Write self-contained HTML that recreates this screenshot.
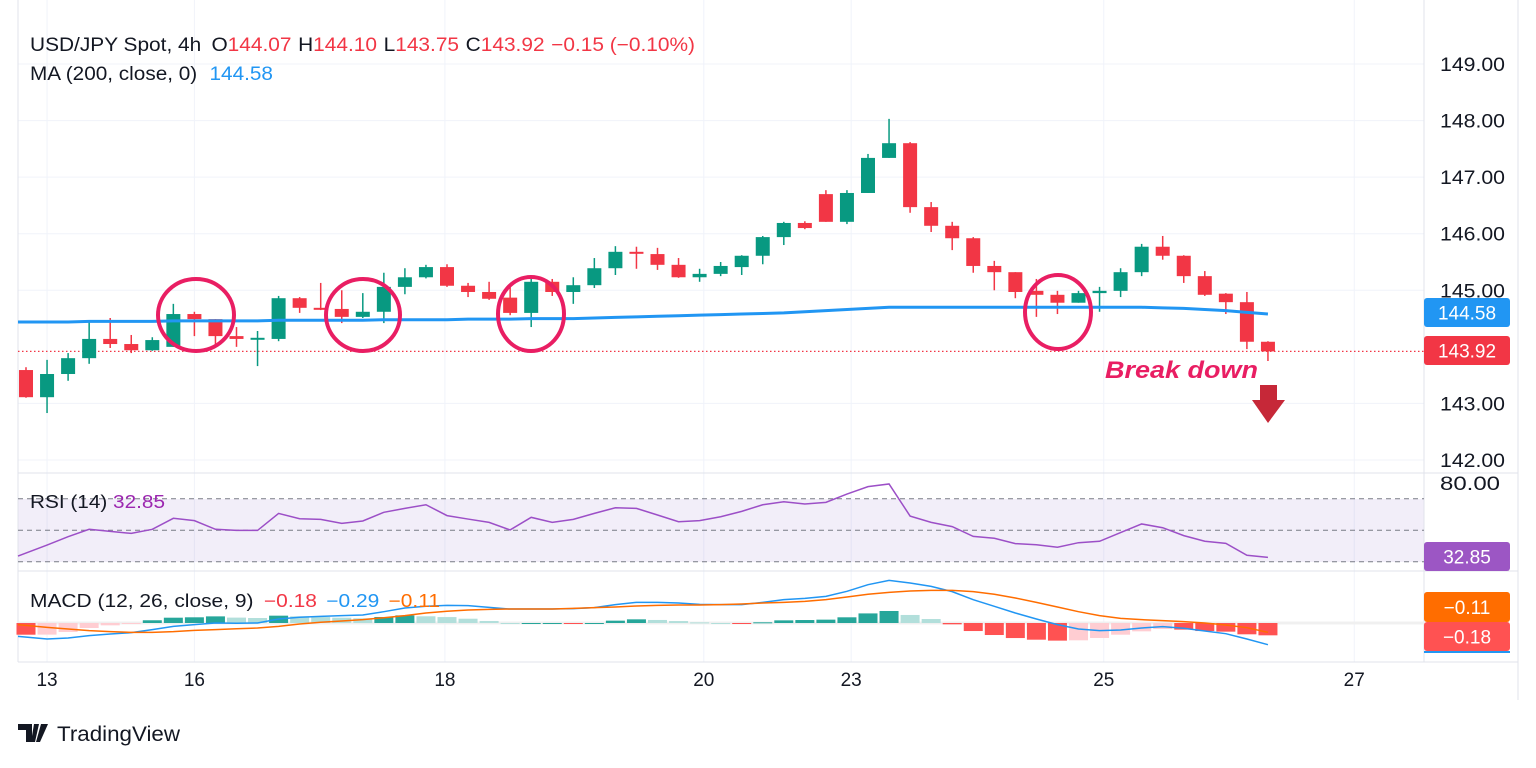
<!DOCTYPE html>
<html><head><meta charset="utf-8">
<style>
body{margin:0;background:#fff;font-family:"Liberation Sans",sans-serif;}
svg text{font-family:"Liberation Sans",sans-serif;}
</style></head>
<body>
<svg id="chart" width="1536" height="763" xmlns="http://www.w3.org/2000/svg">
<rect width="1536" height="763" fill="#fff"/>
<g id="grid"></g>
<rect x="18" y="499" width="1406" height="63" fill="#7e57c2" fill-opacity="0.1"/>
<g id="panes"></g>
<g id="candles"></g>
<g id="ind"></g>
<g id="labels"></g>
<g fill="none" stroke="#e91e63" stroke-width="4">
<ellipse cx="196" cy="315" rx="38" ry="36"/>
<ellipse cx="363" cy="315" rx="37" ry="36"/>
<ellipse cx="531" cy="314" rx="33" ry="37"/>
<ellipse cx="1058" cy="312" rx="33" ry="37"/>
</g>
<text x="1105" y="378" font-size="24" font-weight="bold" font-style="italic" fill="#e91e63" textLength="153" lengthAdjust="spacingAndGlyphs">Break down</text>
<g fill="#c62838">
<rect x="1260" y="385" width="17" height="16"/>
<polygon points="1252,400 1285,400 1268,423"/>
</g>
<text x="30" y="51" font-size="19" fill="#131722" textLength="665" lengthAdjust="spacingAndGlyphs">USD/JPY Spot, 4h <tspan dx="4">O</tspan><tspan fill="#f23645">144.07</tspan><tspan dx="6">H</tspan><tspan fill="#f23645">144.10</tspan><tspan dx="6">L</tspan><tspan fill="#f23645">143.75</tspan><tspan dx="6">C</tspan><tspan fill="#f23645">143.92</tspan><tspan fill="#f23645" dx="6">−0.15 (−0.10%)</tspan></text>
<text x="30" y="80" font-size="19" fill="#131722" textLength="243" lengthAdjust="spacingAndGlyphs">MA (200, close, 0) <tspan fill="#2196f3" dx="6">144.58</tspan></text>
<text x="30" y="508" font-size="18" fill="#131722" textLength="135" lengthAdjust="spacingAndGlyphs">RSI (14) <tspan fill="#9c27b0">32.85</tspan></text>
<text x="30" y="607" font-size="18" fill="#131722" textLength="410" lengthAdjust="spacingAndGlyphs">MACD (12, 26, close, 9) <tspan fill="#f23645" dx="4">−0.18</tspan><tspan fill="#2196f3" dx="8">−0.29</tspan><tspan fill="#ff6d00" dx="8">−0.11</tspan></text>
<g>
<path d="M18 724h14v18h-6v-12h-8z M34 724h5l-4 18h-4z M41 724h7l-8 18h-4z" fill="#131722"/>
<text x="57" y="741" font-size="21" fill="#131722" textLength="123" lengthAdjust="spacingAndGlyphs">TradingView</text>
</g>
</svg>
<script>
const opens=[143.59,143.11,143.52,143.80,144.14,144.05,143.94,144.00,144.58,144.49,144.19,144.14,144.14,144.86,144.69,144.67,144.53,144.62,145.06,145.23,145.41,145.08,144.97,144.87,144.60,145.15,144.97,145.09,145.39,145.68,145.64,145.45,145.23,145.29,145.41,145.61,145.94,146.19,146.70,146.21,146.72,147.34,147.60,146.47,146.14,145.92,145.43,145.32,144.99,144.92,144.78,144.95,144.99,145.32,145.77,145.61,145.25,144.94,144.79,144.09];
const highs=[143.64,143.77,143.89,144.46,144.51,144.21,144.17,144.76,144.62,144.49,144.35,144.28,144.90,144.88,145.13,145.00,144.95,145.31,145.39,145.45,145.46,145.13,145.15,145.06,145.23,145.20,145.23,145.57,145.78,145.77,145.75,145.57,145.38,145.50,145.62,145.96,146.21,146.22,146.77,146.77,147.41,148.03,147.62,146.56,146.21,145.94,145.52,145.32,145.20,144.99,144.99,145.06,145.39,145.82,145.96,145.62,145.34,144.95,144.97,144.10];
const lows=[143.10,142.83,143.40,143.70,143.98,143.89,143.93,144.00,144.19,144.03,144.00,143.66,144.10,144.60,144.65,144.42,144.51,144.42,144.93,145.21,145.06,144.88,144.83,144.56,144.35,144.90,144.76,145.04,145.27,145.38,145.36,145.22,145.15,145.25,145.27,145.46,145.80,146.08,146.21,146.17,146.72,147.34,146.37,146.03,145.71,145.31,145.00,144.86,144.53,144.58,144.78,144.62,144.88,145.25,145.54,145.13,144.90,144.58,143.96,143.75];
const closes=[143.11,143.52,143.80,144.14,144.05,143.94,144.12,144.58,144.49,144.19,144.14,144.16,144.86,144.69,144.67,144.53,144.62,145.06,145.23,145.41,145.08,144.97,144.85,144.60,145.15,144.97,145.09,145.39,145.68,145.66,145.45,145.23,145.29,145.43,145.61,145.94,146.19,146.10,146.21,146.72,147.34,147.60,146.47,146.14,145.92,145.43,145.32,144.97,144.92,144.78,144.95,144.99,145.32,145.77,145.61,145.25,144.92,144.79,144.09,143.92];
const ma200=[144.44,144.44,144.44,144.45,144.45,144.45,144.45,144.46,144.46,144.46,144.46,144.46,144.47,144.47,144.47,144.47,144.47,144.48,144.48,144.48,144.48,144.49,144.49,144.49,144.50,144.50,144.50,144.51,144.52,144.53,144.54,144.55,144.56,144.57,144.58,144.59,144.60,144.62,144.64,144.66,144.68,144.70,144.70,144.70,144.70,144.70,144.70,144.70,144.70,144.70,144.70,144.70,144.70,144.70,144.69,144.68,144.66,144.64,144.61,144.58];
const rsi=[33.6,40.6,45.9,50.6,49.3,48.0,50.6,57.6,56.1,50.6,49.9,49.9,60.7,57.3,56.9,54.4,55.9,61.4,63.9,66.2,59.3,57.1,55.0,50.2,58.2,55.0,56.9,60.7,64.3,63.9,59.7,55.4,56.1,58.6,62.0,66.2,68.1,66.7,67.7,73.0,77.7,79.4,59.0,55.0,52.3,46.1,44.9,41.5,40.8,39.2,42.1,43.0,48.5,54.0,51.6,46.6,43.0,41.7,34.1,32.8];
const macd=[-0.171,-0.205,-0.192,-0.162,-0.141,-0.124,-0.085,-0.043,-0.021,0,-0.004,0,0.051,0.073,0.085,0.094,0.103,0.145,0.192,0.214,0.226,0.222,0.201,0.179,0.179,0.179,0.184,0.197,0.235,0.265,0.265,0.256,0.239,0.235,0.235,0.265,0.299,0.316,0.342,0.406,0.491,0.547,0.513,0.470,0.402,0.299,0.214,0.128,0.051,-0.021,-0.077,-0.098,-0.090,-0.064,-0.047,-0.068,-0.103,-0.137,-0.205,-0.278];
const signal=[-0.021,-0.056,-0.077,-0.098,-0.111,-0.120,-0.120,-0.111,-0.094,-0.085,-0.073,-0.064,-0.043,-0.013,0.009,0.026,0.043,0.068,0.094,0.128,0.150,0.167,0.175,0.179,0.179,0.179,0.188,0.197,0.205,0.218,0.226,0.231,0.231,0.235,0.244,0.256,0.265,0.278,0.299,0.333,0.368,0.393,0.410,0.419,0.419,0.402,0.368,0.321,0.265,0.205,0.145,0.094,0.060,0.043,0.030,0.017,0,-0.026,-0.060,-0.120];
const priceTicks=[149,148,147,146,145,143,142];
const dayLabels=["13","16","18","20","23","25","27"];
const dayIdx=[1,8,19.9,32.2,39.2,51.2,63.1];

const NS="http://www.w3.org/2000/svg";
function mk(parent,tag,attrs){const e=document.createElementNS(NS,tag);for(const k in attrs)e.setAttribute(k,attrs[k]);document.getElementById(parent).appendChild(e);return e;}
const xOf=k=>26+21.05*k;
const yP=p=>64+(149-p)*56.57;
const yR=v=>483+(80-v)*1.575;
const yM=v=>623-v*78;

priceTicks.forEach(p=>{
 const l=mk('grid','line',{x1:18,x2:1424,y1:yP(p),y2:yP(p),stroke:'#f0f3fa','stroke-width':1});
 
 
 const t=mk('labels','text',{x:1440,y:yP(p)+7,'font-size':19,fill:'#131722',textLength:65,lengthAdjust:'spacingAndGlyphs'});
 t.textContent=p.toFixed(2);
 
 
});
dayIdx.forEach((d,i)=>{
 const x=xOf(d);
 const l=mk('grid','line',{x1:x,x2:x,y1:0,y2:662,stroke:'#f0f3fa','stroke-width':1});
 
 
 const t=mk('labels','text',{x:x,y:686,'font-size':19,fill:'#131722','text-anchor':'middle'});
 t.textContent=dayLabels[i];
 
 
});
[[18,473,1424,473],[18,571,1424,571],[1424,0,1424,662],[18,662,1518,662],[1424,473,1518,473],[1424,571,1518,571],[1518,0,1518,700],[18,0,18,662]].forEach(a=>{
 const l=mk('panes','line',{x1:a[0],y1:a[1],x2:a[2],y2:a[3],stroke:'#e0e3eb','stroke-width':1});
 
 
});
[70,50,30].forEach(v=>{
 const l=mk('panes','line',{x1:18,x2:1424,y1:yR(v),y2:yR(v),stroke:'#787b86','stroke-width':1,'stroke-dasharray':'5 4'});
 
 
});
const zl=mk('panes','line',{x1:18,x2:1424,y1:yM(0),y2:yM(0),stroke:'#f0f0f0','stroke-width':3});


const lp=mk('panes','line',{x1:18,x2:1424,y1:yP(closes[59]),y2:yP(closes[59]),stroke:'#f23645','stroke-width':1.2,'stroke-dasharray':'1.5 2.5'});



for(let k=0;k<opens.length;k++){
 const up=closes[k]>=opens[k];const c=up?'#089981':'#f23645';const x=xOf(k);
 const w=mk('candles','line',{x1:x,x2:x,y1:yP(highs[k]),y2:yP(lows[k]),stroke:c,'stroke-width':1.5});
 
 
 const t=Math.min(yP(opens[k]),yP(closes[k]));const h=Math.max(2,Math.abs(yP(opens[k])-yP(closes[k])));
 const b=mk('candles','rect',{x:x-7,y:t,width:14,height:h,fill:c});
 
 
}
let d='';ma200.forEach((v,k)=>{d+=(k?'L':'M')+(k?xOf(k):18)+' '+yP(v);});
const ma=mk('ind','path',{d:d,fill:'none',stroke:'#2196f3','stroke-width':3});


d='';rsi.forEach((v,k)=>{d+=(k?'L':'M')+(k?xOf(k):18)+' '+yR(v);});
const rl=mk('ind','path',{d:d,fill:'none',stroke:'#9c4fc7','stroke-width':1.5});


for(let k=0;k<macd.length;k++){
 const h=macd[k]-signal[k];const ph=k?macd[k-1]-signal[k-1]:h;
 let c;if(h>=0)c=h>=ph?'#26a69a':'#b2dfdb';else c=h<=ph?'#ff5252':'#ffcdd2';
 const y0=yM(0),y1=yM(h);
 const r=mk('ind','rect',{x:xOf(k)-9.5,y:Math.min(y0,y1),width:19,height:Math.max(1,Math.abs(y1-y0)),fill:c});
 
 
}
d='';macd.forEach((v,k)=>{d+=(k?'L':'M')+(k?xOf(k):18)+' '+yM(v);});
const ml=mk('ind','path',{d:d,fill:'none',stroke:'#2196f3','stroke-width':1.5});


d='';signal.forEach((v,k)=>{d+=(k?'L':'M')+(k?xOf(k):18)+' '+yM(v);});
const sl=mk('ind','path',{d:d,fill:'none',stroke:'#ff6d00','stroke-width':1.5});



const rt=mk('labels','text',{x:1440,y:yR(80)+7,'font-size':19,fill:'#131722',textLength:60,lengthAdjust:'spacingAndGlyphs'});rt.textContent='80.00';


function box(y,h,col,txt,name){
 const r=mk('labels','rect',{x:1424,y:y,width:86,height:h,rx:3,fill:col});
 
 
 const t=mk('labels','text',{x:1467,y:y+h/2+7,'font-size':19,fill:'#fff','text-anchor':'middle'});t.textContent=txt;
 
 
}
box(298,29,'#2196f3','144.58','ma-price-label');
box(336,29,'#f23645','143.92','last-price-label');
box(542,29,'#9c56c4','32.85','rsi-value-label');
box(592,30,'#ff6d00','−0.11','signal-value-label');
box(622,29,'#ff5252','−0.18','histogram-value-label');
const bl=mk('labels','rect',{x:1424,y:651,width:86,height:2,fill:'#2196f3'});


</script>
</body></html>
